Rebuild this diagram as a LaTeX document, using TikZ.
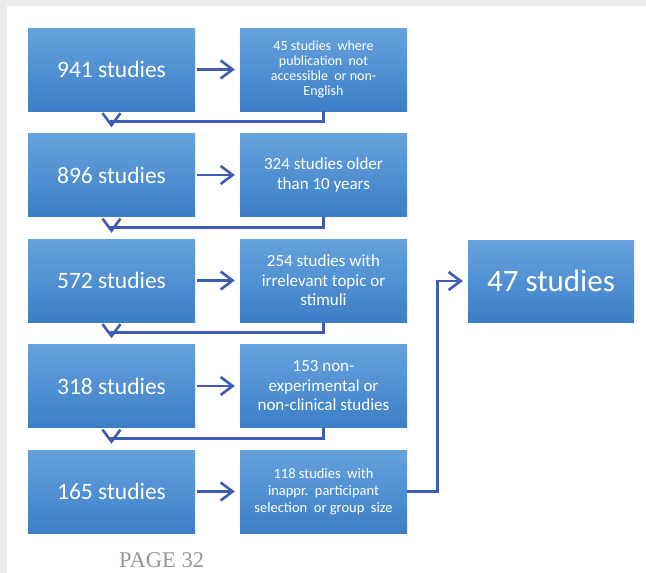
\documentclass[tikz,border=0pt]{standalone}
\usepackage{fontspec}
\setmainfont{Carlito}
\newfontfamily\pagefont{Liberation Serif}
\usetikzlibrary{arrows.meta}
\definecolor{boxtop}{RGB}{102,162,222}
\definecolor{boxbot}{RGB}{60,126,198}
\definecolor{linkblue}{RGB}{62,92,178}
\definecolor{pagegray}{RGB}{236,236,236}
\definecolor{labelgray}{RGB}{150,150,150}
\tikzset{
  stagebox/.style={rectangle, top color=boxtop, bottom color=boxbot, draw=none,
    minimum width=167pt, minimum height=83pt, inner sep=2pt, text=white, align=center},
  bigtext/.style={font=\fontsize{23.5}{28}\selectfont},
  midtext/.style={font=\fontsize{17}{19.5}\selectfont},
  smalltext/.style={font=\fontsize{14}{14.8}\selectfont},
  smalltextb/.style={font=\fontsize{14.5}{17}\selectfont},
  conn/.style={draw=linkblue, line width=2.6pt,
    -{Straight Barb[length=12pt,width=18pt,line width=2.6pt]}},
  link/.style={draw=linkblue, line width=2.6pt}
}
\begin{document}
\begin{tikzpicture}[x=1pt,y=-1pt]
\useasboundingbox (0,0) rectangle (646,573);
\fill[pagegray] (0,0) rectangle (646,573);
\fill[white] (6.5,5.5) rectangle (646,573);

% left column
\node[stagebox,bigtext] (l1) at (111.5,69.5) {941 studies};
\node[stagebox,bigtext] (l2) at (111.5,175) {896 studies};
\node[stagebox,bigtext] (l3) at (111.5,280.5) {572 studies};
\node[stagebox,bigtext] (l4) at (111.5,386) {318 studies};
\node[stagebox,bigtext] (l5) at (111.5,491.5) {165 studies};

% right column
\node[stagebox,smalltext] (r1) at (323.5,69.5) {45 studies\ \ where\\publication\ \ not\\accessible\ \ or non-\\English};
\node[stagebox,midtext] (r2) at (323.5,175) {324 studies older\\than 10 years};
\node[stagebox,midtext] (r3) at (323.5,280.5) {254 studies with\\irrelevant topic or\\stimuli};
\node[stagebox,midtext] (r4) at (323.5,386) {153 non-\\experimental or\\non-clinical studies};
\node[stagebox,smalltextb] (r5) at (323.5,491.5) {118 studies\ \ with\\inappr.\ \ participant\\selection\ \ or group\ \ size};

% final
\node[stagebox,minimum width=166pt,minimum height=82pt,font=\fontsize{31}{36}\selectfont] (f) at (551,281) {47 studies};

% horizontal arrows
\foreach \i in {1,...,5}{
  \draw[conn, shorten <=2pt, shorten >=5pt] (l\i.east) -- (r\i.west);
}

% return connectors
\draw[conn] (r1.south) -- ++(0,10.5) -| ([yshift=6pt]l2.north);
\draw[conn] (r2.south) -- ++(0,10.5) -| ([yshift=6pt]l3.north);
\draw[conn] (r3.south) -- ++(0,10.5) -| ([yshift=6pt]l4.north);
\draw[conn] (r4.south) -- ++(0,10.5) -| ([yshift=6pt]l5.north);

% to final
\draw[conn] (r5.east) -- ++(30,0) |- ([xshift=-5pt]f.west);

% page label
\node[anchor=base west, inner sep=0pt, text=labelgray, font=\pagefont\fontsize{22.5}{25}\selectfont] (pg) at (119,567.5) {PAGE 32};
\end{tikzpicture}
\end{document}
